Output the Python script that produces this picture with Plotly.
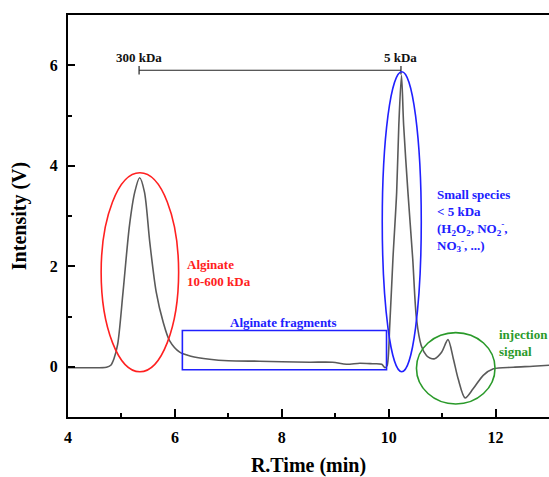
import plotly.graph_objects as go

# Chromatogram trace
rt_min = [4.0, 4.4, 4.72, 4.80, 4.86, 4.93, 5.03, 5.15, 5.25, 5.34, 5.43, 5.53, 5.65, 5.78,
          5.90, 6.09, 6.30, 6.65, 7.0, 7.58, 8.0, 8.52, 8.95, 9.21, 9.46, 9.70, 9.87,
          9.93, 9.97, 10.02, 10.08, 10.15, 10.19, 10.24, 10.28, 10.36, 10.45, 10.52,
          10.61, 10.71, 10.78, 10.86, 10.99, 11.11, 11.21, 11.30, 11.43, 11.58, 11.77,
          11.96, 12.33, 12.7, 13.0]
intensity_v = [-0.02, -0.02, -0.01, 0.03, 0.16, 0.45, 1.49, 2.81, 3.48, 3.76, 3.48, 2.48, 1.49, 0.89,
               0.52, 0.29, 0.21, 0.15, 0.12, 0.11, 0.10, 0.09, 0.09, 0.05, 0.07, 0.06, 0.05,
               -0.02, 0.02, 0.82, 2.15, 3.48, 4.81, 5.80, 4.81, 3.48, 2.15, 0.96,
               0.42, 0.22, 0.17, 0.16, 0.29, 0.54, 0.16, -0.24, -0.62, -0.44, -0.17,
               -0.04, -0.01, 0.01, 0.03]

# Calibration markers
cal_labels = ["300 kDa", "5 kDa"]
cal_times = [5.33, 10.23]
cal_level = 5.9

# Tick values
x_ticks = [4, 6, 8, 10, 12]
y_ticks = [0, 2, 4, 6]

FONT = "Liberation Serif"

fig = go.Figure()
fig.add_trace(go.Scatter(
    x=rt_min, y=intensity_v, mode="lines",
    line=dict(color="#5a5a5a", width=1.6, shape="spline", smoothing=0.8),
    showlegend=False, hoverinfo="skip"))

fig.add_trace(go.Scatter(
    x=cal_times, y=[cal_level] * len(cal_times), mode="lines+markers",
    line=dict(color="#222222", width=1.2),
    marker=dict(symbol="line-ns", size=6, line=dict(color="#222222", width=1.2)),
    showlegend=False, hoverinfo="skip"))

shapes = [
    dict(type="circle", xref="x", yref="y", x0=4.62, x1=6.07, y0=-0.1, y1=3.86,
         line=dict(color="#ff2020", width=1.6)),
    dict(type="circle", xref="x", yref="y", x0=9.88, x1=10.61, y0=-0.1, y1=5.87,
         line=dict(color="#2020ff", width=1.6)),
    dict(type="circle", xref="x", yref="y", x0=10.52, x1=11.99, y0=-0.74, y1=0.68,
         line=dict(color="#2a9a2a", width=1.6)),
    dict(type="rect", xref="x", yref="y", x0=6.14, x1=9.96, y0=-0.06, y1=0.72,
         line=dict(color="#2020ff", width=1.6)),
]

annotations = []
for lab, t in zip(cal_labels, cal_times):
    annotations.append(dict(x=t, y=cal_level + 0.25, xref="x", yref="y", text="<b>%s</b>" % lab,
                            showarrow=False, font=dict(family=FONT, size=13, color="#111111")))

annotations += [
    dict(x=8.04, y=0.88, xref="x", yref="y", text="<b>Alginate fragments</b>", showarrow=False,
         font=dict(family=FONT, size=13, color="#2020ff")),
    dict(x=6.18, y=1.87, xref="x", yref="y", xanchor="left", align="left",
         text="<b>Alginate<br>10-600 kDa</b>", showarrow=False,
         font=dict(family=FONT, size=13, color="#ff2020")),
    dict(x=10.86, y=3.62, xref="x", yref="y", xanchor="left", yanchor="top", align="left",
         text="<b>Small species<br>&lt; 5 kDa<br>(H<sub>2</sub>O<sub>2</sub>, NO<sub>2</sub><sup>-</sup>,<br>NO<sub>3</sub><sup>-</sup>, ...)</b>",
         showarrow=False, font=dict(family=FONT, size=13, color="#2020ff")),
    dict(x=12.03, y=0.47, xref="x", yref="y", xanchor="left", align="left",
         text="<b>injection<br>signal</b>", showarrow=False,
         font=dict(family=FONT, size=13, color="#2a9a2a")),
]

fig.update_layout(
    width=549, height=477,
    margin=dict(l=68, r=0, t=15, b=60, autoexpand=False),
    paper_bgcolor="white", plot_bgcolor="white",
    shapes=shapes, annotations=annotations, showlegend=False,
    font=dict(family=FONT, color="black"),
)

fig.update_xaxes(
    range=[4, 13], tickvals=x_ticks, ticktext=[str(v) for v in x_ticks],
    ticks="inside", ticklen=8, tickwidth=1.5, tickcolor="black", ticklabelstandoff=5,
    minor=dict(dtick=1, tick0=4, ticks="inside", ticklen=4, tickwidth=1.5, tickcolor="black"),
    showline=True, linecolor="black", linewidth=2, mirror=True,
    showgrid=False, zeroline=False, automargin=False,
    tickfont=dict(family=FONT, size=16, color="black", weight="bold"),
    title=dict(text="R.Time (min)", font=dict(family=FONT, size=20, color="black", weight="bold"),
               standoff=14),
)
fig.update_yaxes(
    range=[-1, 7], tickvals=y_ticks, ticktext=[str(v) for v in y_ticks],
    ticks="inside", ticklen=7, tickwidth=1.5, tickcolor="black", ticklabelstandoff=5,
    minor=dict(dtick=1, tick0=0, ticks="inside", ticklen=4, tickwidth=1.5, tickcolor="black"),
    showline=True, linecolor="black", linewidth=2, mirror=False,
    showgrid=False, zeroline=False, automargin=False,
    tickfont=dict(family=FONT, size=16, color="black", weight="bold"),
    title=dict(text="Intensity (V)", font=dict(family=FONT, size=20, color="black", weight="bold"),
               standoff=18),
)

fig.write_html(
    "out.html",
    config={"displayModeBar": False},
    post_script="document.body.style.margin='0';document.documentElement.style.overflow='hidden';document.body.style.overflow='hidden';",
)
